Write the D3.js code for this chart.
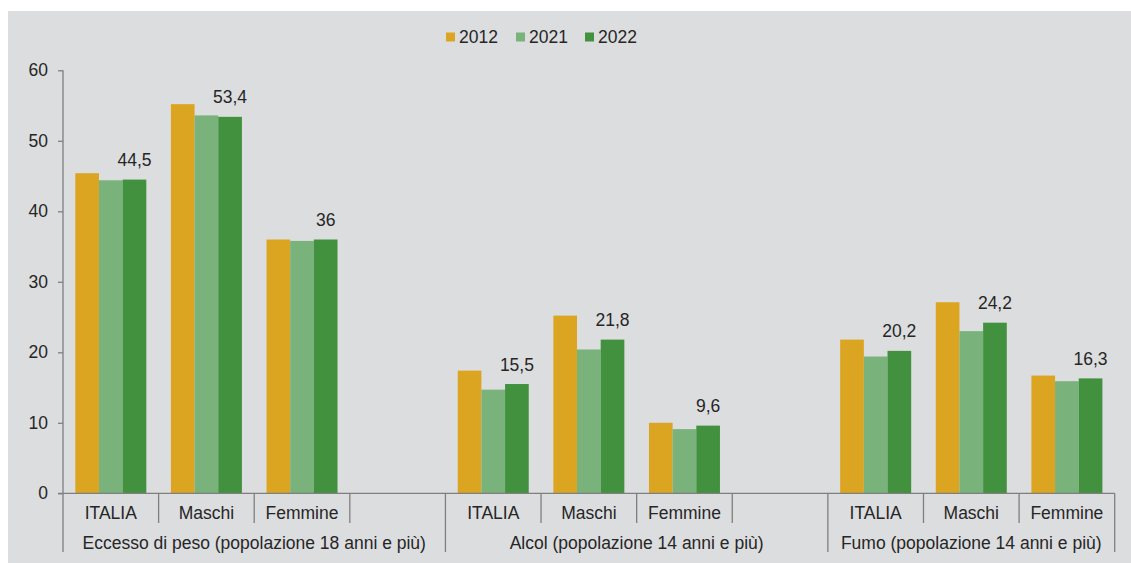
<!DOCTYPE html>
<html><head><meta charset="utf-8">
<script src="https://cdn.jsdelivr.net/npm/d3@7"></script>
<style>
html,body{margin:0;padding:0;background:#fff;}
svg{display:block;font-family:"Liberation Sans",Arial,sans-serif;}
</style></head>
<body>
<svg id="c" width="1131" height="563"></svg>
<script>
const years = ["2012","2021","2022"];
const groups = ["Eccesso di peso (popolazione 18 anni e più)","Alcol (popolazione 14 anni e più)","Fumo (popolazione 14 anni e più)"];
const subcats = ["ITALIA","Maschi","Femmine"];
const v2012 = [45.4,55.2,36.0, 17.4,25.2,10.0, 21.8,27.1,16.7];
const v2021 = [44.4,53.6,35.8, 14.7,20.4,9.1, 19.4,23.0,15.9];
const v2022 = [44.5,53.4,36.0, 15.5,21.8,9.6, 20.2,24.2,16.3];
const labels2022 = ["44,5","53,4","36","15,5","21,8","9,6","20,2","24,2","16,3"];
const yTicks = [0,10,20,30,40,50,60];
const colors = ["#dca521","#79b27b","#41913f"];
const FS = 17.5;
const TXT = "#262626";

const svg = d3.select("#c");
svg.append("rect").attr("x",8).attr("y",11).attr("width",1123).attr("height",552).attr("fill","#dcdddf");

// slots: 4 per group, last group without blank
const slots = [];
groups.forEach((g,gi)=>{
  subcats.forEach((s,si)=>slots.push({key:gi+"-"+si,g:gi,s:si,idx:gi*3+si}));
  if(gi<groups.length-1) slots.push({key:gi+"-blank",g:gi,s:-1});
});
const x = d3.scaleBand().domain(slots.map(d=>d.key)).range([63,1114.7]).padding(0);
const xi = d3.scaleBand().domain(years).range([0,x.bandwidth()]).paddingInner(0).paddingOuter(0.52);
const y = d3.scaleLinear().domain([0,60]).range([493.3,70.3]);

// y axis
const ya = svg.append("g").attr("transform","translate(63,0)")
  .call(d3.axisLeft(y).tickValues(yTicks).tickSize(5).tickPadding(10));
ya.select(".domain").attr("stroke","#7f7f7f").attr("stroke-width",1.3).attr("d","M0,"+y(60)+"V"+y(0));
ya.selectAll(".tick line").attr("stroke","#7f7f7f").attr("stroke-width",1.3);
ya.selectAll(".tick text").attr("font-size",FS).attr("fill",TXT).attr("font-family","Liberation Sans, Arial, sans-serif");

const series = [v2012,v2021,v2022];
const data = slots.filter(d=>d.s>=0);
years.forEach((yr,k)=>{
  svg.append("g").selectAll("rect").data(data).join("rect")
    .attr("x",d=>x(d.key)+xi(yr))
    .attr("width",xi.bandwidth())
    .attr("y",d=>y(series[k][d.idx]))
    .attr("height",d=>y(0)-y(series[k][d.idx]))
    .attr("fill",colors[k]);
});
// labels
svg.append("g").selectAll("text").data(data).join("text")
  .attr("x",d=>x(d.key)+xi("2022")+xi.bandwidth()/2)
  .attr("y",d=>y(v2022[d.idx])-13.5)
  .attr("text-anchor","middle").attr("font-size",FS).attr("fill",TXT)
  .text(d=>labels2022[d.idx]);

// x axis
const ax = svg.append("g").attr("stroke","#7f7f7f").attr("stroke-width",1.3);
ax.append("line").attr("x1",58).attr("x2",x.range()[1]).attr("y1",y(0)).attr("y2",y(0));
slots.forEach((d,i)=>{
  const xs = x(d.key);
  const isGroupStart = i===0 || slots[i-1].g!==d.g;
  ax.append("line").attr("x1",xs).attr("x2",xs).attr("y1",y(0)).attr("y2",isGroupStart?552:523);
});
ax.append("line").attr("x1",x.range()[1]).attr("x2",x.range()[1]).attr("y1",y(0)).attr("y2",552);

svg.append("g").selectAll("text").data(data).join("text")
  .attr("x",d=>x(d.key)+x.bandwidth()/2).attr("y",518.5)
  .attr("text-anchor","middle").attr("font-size",FS).attr("fill",TXT)
  .text(d=>subcats[d.s]);
svg.append("g").selectAll("text").data(groups).join("text")
  .attr("x",(g,gi)=>{
    const ks = slots.filter(s=>s.g===gi);
    return (x(ks[0].key)+x(ks[ks.length-1].key)+x.bandwidth())/2;
  }).attr("y",548.5)
  .attr("text-anchor","middle").attr("font-size",FS).attr("fill",TXT)
  .text(g=>g);

// legend
const lx = [446,516,585];
const lg = svg.append("g");
years.forEach((yr,k)=>{
  lg.append("rect").attr("x",lx[k]).attr("y",32.5).attr("width",9).attr("height",9).attr("fill",colors[k]);
  lg.append("text").attr("x",lx[k]+13).attr("y",42.7).attr("font-size",FS).attr("fill",TXT).text(yr);
});
</script>
</body></html>
